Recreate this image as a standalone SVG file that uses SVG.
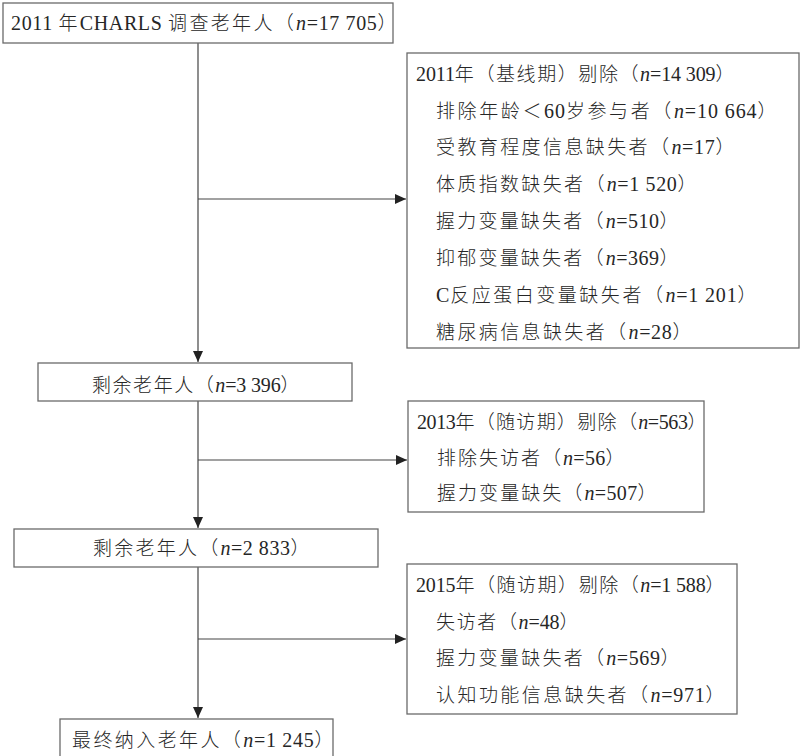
<svg xmlns="http://www.w3.org/2000/svg" width="801" height="756" viewBox="0 0 801 756">
<defs>
<style>
.box{fill:#fff;stroke:#6a6a6a;stroke-width:1.3}
.t{font-family:"Liberation Serif","Noto Sans CJK SC",serif;font-size:20px;fill:#262626;letter-spacing:0.8px}
.cn{font-family:"Noto Sans CJK SC",sans-serif;font-weight:300;font-size:19px;letter-spacing:2.5px}
.i{font-style:italic}
.ln{stroke:#444;stroke-width:1.2;fill:none}
</style>
<marker id="ah" markerUnits="userSpaceOnUse" markerWidth="12" markerHeight="10" refX="11" refY="5" orient="auto">
<path d="M0,0 L11,5 L0,10 Z" fill="#222"/>
</marker>
</defs>
<rect width="801" height="756" fill="#fff"/>
<g id="connectors">
<line class="ln" x1="198" y1="43" x2="198" y2="362" marker-end="url(#ah)"/>
<line class="ln" x1="198" y1="199" x2="406" y2="199" marker-end="url(#ah)"/>
<line class="ln" x1="198" y1="401" x2="198" y2="528" marker-end="url(#ah)"/>
<line class="ln" x1="198" y1="460" x2="407" y2="460" marker-end="url(#ah)"/>
<line class="ln" x1="198" y1="567" x2="198" y2="718" marker-end="url(#ah)"/>
<line class="ln" x1="198" y1="639" x2="406" y2="639" marker-end="url(#ah)"/>
</g>
<g id="n1">
<rect class="box" x="3" y="3" width="390" height="40"/>
<text class="t" x="11" y="30" textLength="388" lengthAdjust="spacing">2011 <tspan class="cn">年</tspan>CHARLS <tspan class="cn">调查老年人（</tspan><tspan class="i">n</tspan>=17 705<tspan class="cn">）</tspan></text>
</g>
<g id="n2">
<rect class="box" x="407" y="53" width="392" height="295"/>
<text class="t" x="416" y="81" textLength="321" lengthAdjust="spacing">2011<tspan class="cn">年（基线期）剔除（</tspan><tspan class="i">n</tspan>=14 309<tspan class="cn">）</tspan></text>
<text class="t" x="436" y="118" textLength="343" lengthAdjust="spacing"><tspan class="cn">排除年龄＜</tspan>60<tspan class="cn">岁参与者（</tspan><tspan class="i">n</tspan>=10 664<tspan class="cn">）</tspan></text>
<text class="t" x="436" y="154" textLength="301" lengthAdjust="spacing"><tspan class="cn">受教育程度信息缺失者（</tspan><tspan class="i">n</tspan>=17<tspan class="cn">）</tspan></text>
<text class="t" x="436" y="191" textLength="263" lengthAdjust="spacing"><tspan class="cn">体质指数缺失者（</tspan><tspan class="i">n</tspan>=1 520<tspan class="cn">）</tspan></text>
<text class="t" x="436" y="228" textLength="245" lengthAdjust="spacing"><tspan class="cn">握力变量缺失者（</tspan><tspan class="i">n</tspan>=510<tspan class="cn">）</tspan></text>
<text class="t" x="436" y="265" textLength="245" lengthAdjust="spacing"><tspan class="cn">抑郁变量缺失者（</tspan><tspan class="i">n</tspan>=369<tspan class="cn">）</tspan></text>
<text class="t" x="436" y="302" textLength="323" lengthAdjust="spacing">C<tspan class="cn">反应蛋白变量缺失者（</tspan><tspan class="i">n</tspan>=1 201<tspan class="cn">）</tspan></text>
<text class="t" x="436" y="339" textLength="258" lengthAdjust="spacing"><tspan class="cn">糖尿病信息缺失者（</tspan><tspan class="i">n</tspan>=28<tspan class="cn">）</tspan></text>
</g>
<g id="n3">
<rect class="box" x="38" y="363" width="314" height="38"/>
<text class="t" x="92" y="392" textLength="210" lengthAdjust="spacing"><tspan class="cn">剩余老年人（</tspan><tspan class="i">n</tspan>=3 396<tspan class="cn">）</tspan></text>
</g>
<g id="n4">
<rect class="box" x="408" y="401" width="296" height="111"/>
<text class="t" x="417" y="429" textLength="292" lengthAdjust="spacing">2013<tspan class="cn">年（随访期）剔除（</tspan><tspan class="i">n</tspan>=563<tspan class="cn">）</tspan></text>
<text class="t" x="437" y="465" textLength="190" lengthAdjust="spacing"><tspan class="cn">排除失访者（</tspan><tspan class="i">n</tspan>=56<tspan class="cn">）</tspan></text>
<text class="t" x="437" y="500" textLength="222" lengthAdjust="spacing"><tspan class="cn">握力变量缺失（</tspan><tspan class="i">n</tspan>=507<tspan class="cn">）</tspan></text>
</g>
<g id="n5">
<rect class="box" x="14" y="529" width="364" height="38"/>
<text class="t" x="93" y="555" textLength="219" lengthAdjust="spacing"><tspan class="cn">剩余老年人（</tspan><tspan class="i">n</tspan>=2 833<tspan class="cn">）</tspan></text>
</g>
<g id="n6">
<rect class="box" x="407" y="564" width="330" height="150"/>
<text class="t" x="416" y="592" textLength="311" lengthAdjust="spacing">2015<tspan class="cn">年（随访期）剔除（</tspan><tspan class="i">n</tspan>=1 588<tspan class="cn">）</tspan></text>
<text class="t" x="436" y="629" textLength="145" lengthAdjust="spacing"><tspan class="cn">失访者（</tspan><tspan class="i">n</tspan>=48<tspan class="cn">）</tspan></text>
<text class="t" x="436" y="665" textLength="246" lengthAdjust="spacing"><tspan class="cn">握力变量缺失者（</tspan><tspan class="i">n</tspan>=569<tspan class="cn">）</tspan></text>
<text class="t" x="436" y="702" textLength="291" lengthAdjust="spacing"><tspan class="cn">认知功能信息缺失者（</tspan><tspan class="i">n</tspan>=971<tspan class="cn">）</tspan></text>
</g>
<g id="n7">
<rect class="box" x="60" y="719" width="273" height="45"/>
<text class="t" x="72" y="747" textLength="264" lengthAdjust="spacing"><tspan class="cn">最终纳入老年人（</tspan><tspan class="i">n</tspan>=1 245<tspan class="cn">）</tspan></text>
</g>
</svg>
